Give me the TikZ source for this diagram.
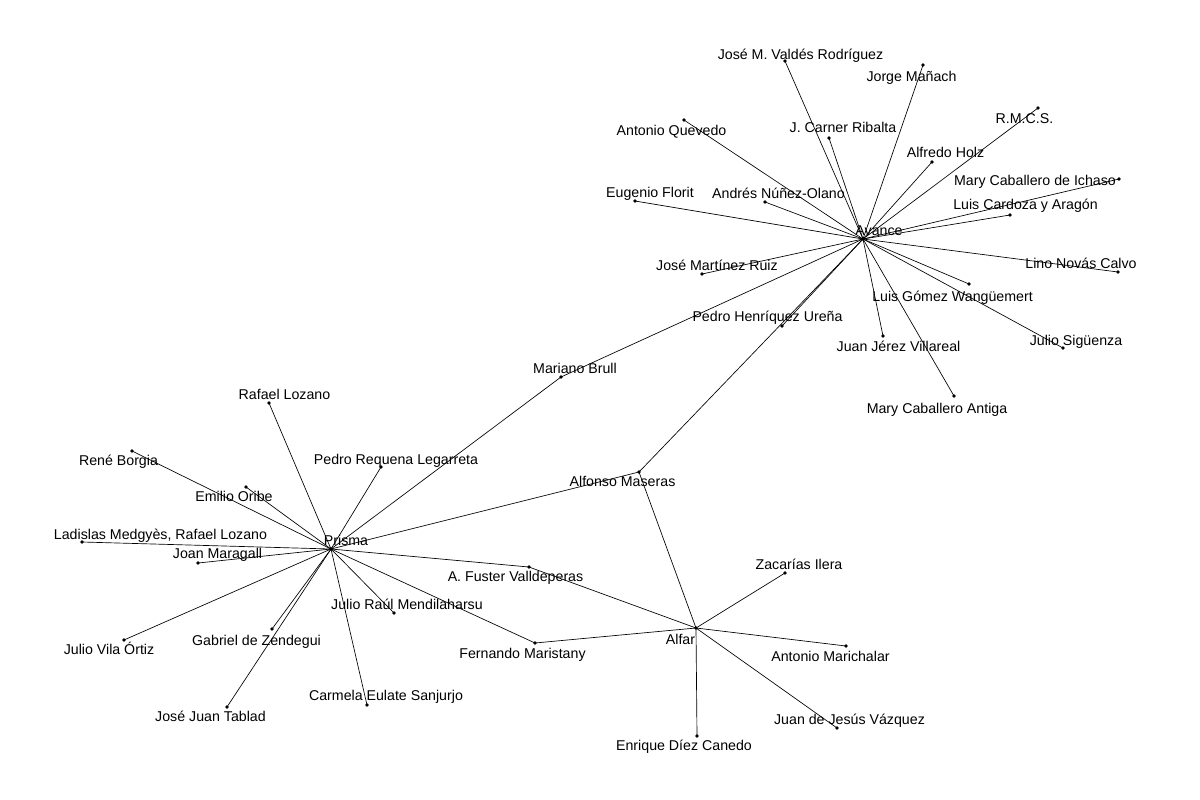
\documentclass[tikz,border=0pt]{standalone}
\usepackage{fontspec}
\setmainfont{Liberation Sans}
\begin{document}
\begin{tikzpicture}[x=0.75pt,y=-0.75pt,
  dot/.style={circle,fill=black,inner sep=0pt,minimum size=2.8pt},
  lbl/.style={anchor=base,inner sep=0pt,font=\fontsize{10.65}{12}\selectfont},
  edge/.style={line width=0.5pt,black}]
\useasboundingbox (0,0) rectangle (1200,800);
\newcommand\pers[4]{\node[dot] (#1) at (#2) {}; \node[lbl] (#1-l) at (#3) {#4};}
% hubs
\pers{avance}{863,239}{879,235.7}{Avance}
\pers{prisma}{331,549}{346,545}{Prisma}
\pers{alfar}{696,628}{680.5,644}{Alfar}
% Avance group
\pers{valdes}{785,61}{800.5,59}{José M. Valdés Rodríguez}
\pers{manach}{923,65}{911.5,81}{Jorge Mañach}
\pers{carner}{829,138}{843,132.7}{J. Carner Ribalta}
\pers{quevedo}{684,120}{671.5,135}{Antonio Quevedo}
\pers{florit}{635,201}{650,197.7}{Eugenio Florit}
\pers{nunez}{765,202}{778.5,198.7}{Andrés Núñez-Olano}
\pers{rmcs}{1038,108}{1024.5,123.7}{R.M.C.S.}
\pers{holz}{932,162}{945.5,157.7}{Alfredo Holz}
\pers{ichaso}{1119,179}{1035,185.3}{Mary Caballero de Ichaso}
\pers{cardoza}{1010,215}{1025.5,209.3}{Luis Cardoza y Aragón}
\pers{lino}{1118,272}{1081,268.3}{Lino Novás Calvo}
\pers{gomez}{969,284}{952.5,301}{Luis Gómez Wangüemert}
\pers{jerez}{883,336}{898.5,351.7}{Juan Jérez Villareal}
\pers{siguenza}{1063,348}{1076,345}{Julio Sigüenza}
\pers{antiga}{954,396}{937,413.3}{Mary Caballero Antiga}
\pers{martinez}{702,274}{717,270.7}{José Martínez Ruiz}
\pers{urena}{782,326}{767.5,321.7}{Pedro Henríquez Ureña}
\pers{brull}{561,377}{575,373.3}{Mariano Brull}
\pers{maseras}{639,472}{622.5,486.7}{Alfonso Maseras}
% Prisma group
\pers{lozano}{269,403}{284.5,399.3}{Rafael Lozano}
\pers{borgia}{132,451}{118.5,465}{René Borgia}
\pers{oribe}{246,487}{234,501.7}{Emilio Oribe}
\pers{ladislas}{82,542}{160.5,539}{Ladislas Medgyès, Rafael Lozano}
\pers{maragall}{198,563}{217.5,558.3}{Joan Maragall}
\pers{requena}{381,467}{396,464}{Pedro Requena Legarreta}
\pers{fuster}{529,567}{515.5,581.7}{A. Fuster Valldeperas}
\pers{mendi}{394,613}{407,609}{Julio Raúl Mendilaharsu}
\pers{vila}{124,640}{109,654.3}{Julio Vila Órtiz}
\pers{zendegui}{272,629}{256.5,645}{Gabriel de Zendegui}
\pers{tablad}{227,707}{210.5,721}{José Juan Tablad}
\pers{carmela}{367,705}{386,700}{Carmela Eulate Sanjurjo}
\pers{maristany}{535,643}{522.5,658}{Fernando Maristany}
% Alfar group
\pers{zacarias}{785,573}{799,569.3}{Zacarías Ilera}
\pers{marichalar}{846,646}{830.5,661}{Antonio Marichalar}
\pers{vazquez}{837,728}{849.5,724.3}{Juan de Jesús Vázquez}
\pers{canedo}{697,736}{684,750}{Enrique Díez Canedo}
% edges
\foreach \n in {valdes,manach,carner,quevedo,florit,nunez,rmcs,holz,ichaso,cardoza,lino,gomez,siguenza,jerez,antiga,martinez,urena,brull,maseras}
  \draw[edge] (avance.center) -- (\n.center);
\foreach \n in {lozano,borgia,oribe,ladislas,maragall,requena,vila,zendegui,tablad,carmela,mendi,fuster,maristany,maseras,brull}
  \draw[edge] (prisma.center) -- (\n.center);
\foreach \n in {maseras,fuster,maristany,zacarias,marichalar,vazquez,canedo}
  \draw[edge] (alfar.center) -- (\n.center);
\end{tikzpicture}
\end{document}
